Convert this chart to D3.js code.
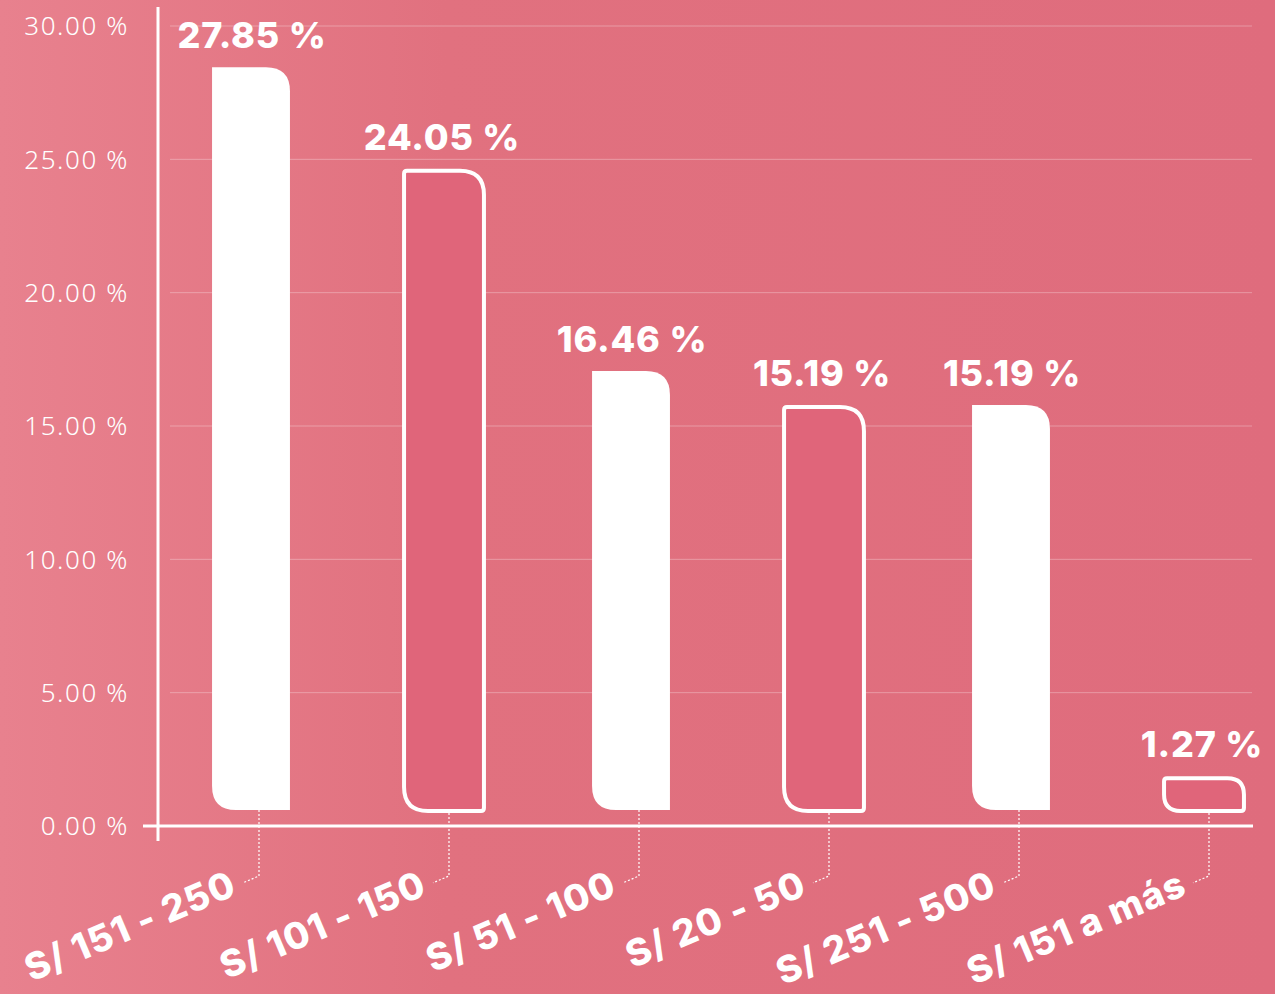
<!DOCTYPE html>
<html lang="es">
<head>
  <meta charset="utf-8"/>
  <script src="https://d3js.org/d3.v7.min.js"></script>
  <style>
    html, body { margin: 0; padding: 0; overflow: hidden; }
    svg { display: block; }
    .tick-label { font-family: "Noto Sans", sans-serif; font-weight: 300; fill: #fff; }
    .value-label, .cat-label { font-family: Inter, "Open Sans", sans-serif; font-weight: 800; fill: #fff; }
  </style>
</head>
<body>
<div id="chart"></div>
<script>
  // data
  const categories = ["S/ 151 - 250", "S/ 101 - 150", "S/ 51 - 100", "S/ 20 - 50", "S/ 251 - 500", "S/ 151 a más"];
  const values     = [27.85, 24.05, 16.46, 15.19, 15.19, 1.27];
  const outlined   = [false, true, false, true, false, true];
  const yTicks     = [0, 5, 10, 15, 20, 25, 30];

  const width = 1275, height = 994;

  const svg = d3.select("#chart").append("svg")
    .attr("width", width)
    .attr("height", height);

  // background gradient
  const defs = svg.append("defs");
  const grad = defs.append("linearGradient").attr("id", "bg")
    .attr("x1", "0%").attr("x2", "100%").attr("y1", "0%").attr("y2", "0%");
  grad.append("stop").attr("offset", "0%").attr("stop-color", "#e8818e");
  grad.append("stop").attr("offset", "35%").attr("stop-color", "#e1717f");
  grad.append("stop").attr("offset", "100%").attr("stop-color", "#df6c7d");
  svg.append("rect").attr("width", width).attr("height", height).attr("fill", "url(#bg)");

  const y = d3.scaleLinear().domain([0, 30]).range([826, 26]);
  const x = d3.scaleBand().domain(categories).range([156, 1296]).paddingInner(0.59).paddingOuter(0.295);

  // gridlines
  svg.append("g").selectAll("line")
    .data(yTicks.filter(d => d > 0))
    .join("line")
    .attr("x1", 170).attr("x2", 1252)
    .attr("y1", d => y(d)).attr("y2", d => y(d))
    .attr("stroke", "#fff").attr("stroke-opacity", 0.3).attr("stroke-width", 1);

  // y tick labels
  svg.append("g").selectAll("text")
    .data(yTicks)
    .join("text")
    .attr("class", "tick-label")
    .attr("x", 129)
    .attr("y", d => y(d))
    .attr("dy", "0.36em")
    .attr("text-anchor", "end")
    .attr("font-size", 26)
    .attr("letter-spacing", 1.6)
    .text(d => d3.format(".2f")(d) + " %");

  // axes lines
  svg.append("line").attr("x1", 158).attr("x2", 158).attr("y1", 7).attr("y2", 841)
    .attr("stroke", "#fff").attr("stroke-width", 3);
  svg.append("line").attr("x1", 143).attr("x2", 1253).attr("y1", y(0)).attr("y2", y(0))
    .attr("stroke", "#fff").attr("stroke-width", 3);

  const lift = 16;     // bars float a bit above the axis
  const bigR = 24, smallR = 3;

  function barPath(x0, x1, top, bottom, sharp) {
    const r = sharp;
    const R = Math.min(bigR, (bottom - top) / 2);
    return [
      "M", x0 + r, top,
      "L", x1 - R, top,
      "Q", x1, top, x1, top + R,
      "L", x1, bottom - r,
      "Q", x1, bottom, x1 - r, bottom,
      "L", x0 + R, bottom,
      "Q", x0, bottom, x0, bottom - R,
      "L", x0, top + r,
      "Q", x0, top, x0 + r, top, "Z"
    ].join(" ");
  }

  const bars = categories.map((c, i) => ({ cat: c, value: values[i], outlined: outlined[i] }));

  const g = svg.append("g");
  g.selectAll("path.bar")
    .data(bars)
    .join("path")
    .attr("class", "bar")
    .attr("d", d => {
      const x0 = x(d.cat), x1 = x0 + x.bandwidth();
      const top = y(d.value) - lift, bottom = y(0) - lift;
      if (d.outlined) return barPath(x0 + 2, x1 + 4, top + 2, bottom + 1, smallR);
      return barPath(x0, x1, top, bottom, 0);
    })
    .attr("fill", d => d.outlined ? "#e0657a" : "#fff")
    .attr("stroke", d => d.outlined ? "#fff" : "none")
    .attr("stroke-width", 4);

  // value labels
  g.selectAll("text.value-label")
    .data(bars)
    .join("text")
    .attr("class", "value-label")
    .attr("x", d => x(d.cat) + x.bandwidth() / 2 + 1)
    .attr("y", d => y(d.value) - lift - 19)
    .attr("text-anchor", "middle")
    .attr("font-size", 36)
    .attr("letter-spacing", 0.8)
    .text(d => d3.format(".2f")(d.value) + " %");

  // dotted leaders + rotated category labels
  const angle = -23;
  const leaderBottom = 876;
  bars.forEach(d => {
    const cx = x(d.cat) + x.bandwidth() / 2 + 8;
    const top = y(0) - lift + (d.outlined ? 3 : 0);
    const endX = cx - 16;
    const endY = leaderBottom + 16 * Math.tan(-angle * Math.PI / 180);
    svg.append("path")
      .attr("d", `M${cx},${top} L${cx},${leaderBottom} L${endX},${endY}`)
      .attr("fill", "none")
      .attr("stroke", "#fff")
      .attr("stroke-width", 1.2)
      .attr("stroke-dasharray", "2,2");
    svg.append("text")
      .attr("class", "cat-label")
      .attr("transform", `translate(${endX - 4},${endY + 11}) rotate(${angle})`)
      .attr("text-anchor", "end")
      .attr("font-size", 37)
      .attr("letter-spacing", 1.2)
      .text(d.cat);
  });
</script>
</body>
</html>
